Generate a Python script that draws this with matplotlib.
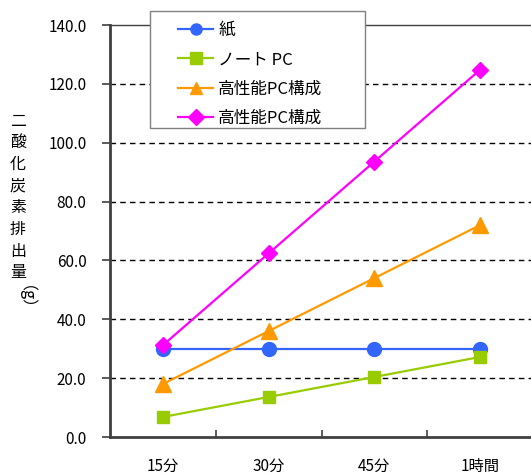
import matplotlib.pyplot as plt
from matplotlib.patches import Rectangle
import numpy as np

plt.rcParams['font.family'] = ['Noto Sans CJK JP', 'DejaVu Sans']

categories = ["15分", "30分", "45分", "1時間"]
paper = [30.0, 30.0, 30.0, 30.0]
notepc = [6.8, 13.6, 20.4, 27.2]
highpc = [18.0, 36.0, 54.0, 72.0]
highpc2 = [31.2, 62.4, 93.6, 124.8]
labels = ["紙", "ノート PC", "高性能PC構成", "高性能PC構成"]
ylabel_chars = "二酸化炭素排出量"

W, H = 531, 475
fig = plt.figure(figsize=(W / 100, H / 100), dpi=100)
ax = fig.add_axes([110 / W, 38 / H, 423 / W, 412 / H])

x = np.arange(len(categories)) + 0.5
ax.plot(x, paper, color="#3366ff", lw=1.6, marker="o", ms=10, label=labels[0], zorder=3)
ax.plot(x, notepc, color="#99cc00", lw=1.6, marker="s", ms=9, label=labels[1], zorder=3)
ax.plot(x, highpc, color="#ff9900", lw=1.6, marker="^", ms=11, label=labels[2], zorder=3)
ax.plot(x, highpc2, color="#ff00ff", lw=1.6, marker="D", ms=8, label=labels[3], zorder=4)

ax.set_xlim(0, 4)
ax.set_ylim(0, 140)
ax.set_yticks(np.arange(0, 141, 20))
ax.set_yticklabels([f"{v:.1f}" for v in np.arange(0, 141, 20)], fontsize=11)
ax.set_xticks(x)
ax.set_xticklabels(categories, fontsize=11)
ax.set_xticks([1, 2, 3], minor=True)
ax.tick_params(axis="x", which="major", length=0, pad=15)
ax.tick_params(axis="x", which="minor", direction="in", length=5, width=1.2, color="#404040")
ax.tick_params(axis="y", direction="out", length=6, width=1.2, color="#404040", pad=11)

for v in range(20, 140, 20):
    ax.axhline(v, color="black", lw=1, ls=(0, (4, 3)), zorder=1)

for side in ["left", "bottom"]:
    ax.spines[side].set_color("#404040")
    ax.spines[side].set_linewidth(2)
ax.spines["top"].set_color("#404040")
ax.spines["top"].set_linewidth(1)
ax.spines["right"].set_visible(False)

# vertical y-axis title, one character per line
y0 = 1 - 121 / H
for i, ch in enumerate(ylabel_chars):
    fig.text(18 / W, y0 - i * 21.7 / H, ch, ha="center", va="center", fontsize=11.5)
fig.text(18 / W, 1 - 306 / H, "（g）", ha="center", va="center", fontsize=11.5, rotation=270)

# legend box drawn separately so it can be wider than its contents
fig.patches.append(Rectangle((150 / W, 1 - 128 / H), 215 / W, 117 / H,
                             transform=fig.transFigure, facecolor="white",
                             edgecolor="#808080", lw=1, zorder=9))
leg = fig.legend(loc="upper left", bbox_to_anchor=(178 / W, 1 - 22 / H), fontsize=12,
                 frameon=False, borderpad=0, handlelength=2.1, handletextpad=0.3,
                 labelspacing=0.74, borderaxespad=0)
leg.set_zorder(10)
for h in leg.legend_handles:
    h.set_markersize(8)

fig.savefig("out.png", dpi=100)
